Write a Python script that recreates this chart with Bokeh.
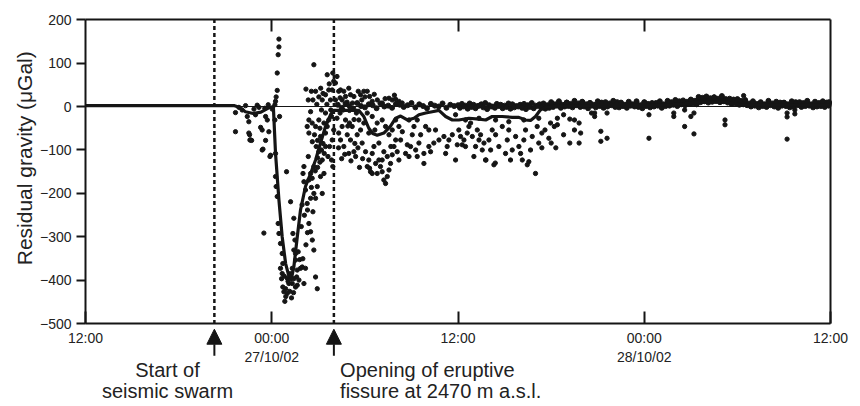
import math
from bokeh.plotting import figure
from bokeh.models import Range1d, FixedTicker, LinearAxis, Label, Arrow, NormalHead
from bokeh.embed import file_html
from bokeh.resources import INLINE

# ---------------- data (time in hours after 12:00 on 26/10/02, gravity in µGal) -------------
tick_hours = [0, 12, 24, 36, 48]
tick_labels = ["12:00", "00:00\n27/10/02", "12:00", "00:00\n28/10/02", "12:00"]
y_ticks = [200, 100, 0, -100, -200, -300, -400, -500]
y_tick_labels = ["200", "100", "0", "\u2212100", "\u2212200", "\u2212300", "\u2212400", "\u2212500"]
y_axis_title = "Residual gravity (\u03bcGal)"

swarm_start = 8.3      # start of seismic swarm
fissure_open = 16.0    # opening of eruptive fissure
swarm_text = ["Start of", "seismic swarm"]
fissure_text = ["Opening of eruptive", "fissure at 2470 m a.s.l."]

pre_swarm = [(9.66,-14),(9.66,-58),(9.88,-2),(10.09,-8),(10.31,2),(10.42,-23),(10.52,-35),(10.57,-65),
             (10.59,-77),(10.70,-78),(10.85,-6),(10.95,-19),(11.06,3),(11.17,-2),(11.28,-48),(11.38,-54),
             (11.38,-100),(11.43,-98),(11.49,-291),(11.55,-4),(11.60,-78),(11.60,-23),(11.71,-31),(11.77,4),
             (11.81,-58),(11.88,-115),(11.92,-112),(12.03,-6),(12.20,4),(12.20,-31),(12.24,12),(12.28,22),
             (12.35,37),(12.35,77),(12.41,119),(12.46,137),(12.46,155),(12.50,-23),(10.52,-61),(10.63,-77)]

collapse = [(12.24,-108),(12.24,-161),(12.28,-184),(12.35,-207),(12.41,-269),(12.46,-292),(12.56,-315),
            (12.67,-338),(12.71,-361),(12.56,-372),(12.67,-384),(12.63,-396),(12.71,-415),(12.78,-426),
            (12.89,-419),(12.99,-430),(12.84,-448),(13.10,-407),(13.21,-384),(13.32,-407),(13.42,-396),
            (13.53,-415),(13.64,-411),(13.75,-399),(13.85,-372),(13.96,-369),(14.07,-407),(14.17,-372),
            (13.64,-376),(13.32,-372),(13.53,-353),(13.42,-330),(13.49,-307),(13.36,-292),(13.42,-257),
            (13.21,-219),(12.95,-150),(13.53,-338),(14.82,-392),(14.93,-419),(14.71,-330),(14.61,-307),
            (14.50,-288),(14.39,-269),(14.65,-242),(14.82,-211),(14.71,-200),(14.50,-211),(14.28,-223),
            (14.17,-192),(14.07,-173),(14.39,-169),(14.07,-138),(14.35,-115),(14.01,-154),(14.50,-154),
            (14.71,-138),(14.93,-184),(15.25,-200),(15.14,-161),(15.36,-154),(15.25,-123),(15.03,-104),
            (14.86,-92),(14.61,-81),(14.39,-61),(14.28,-46),(14.39,-31),(14.50,-12),(14.35,15),(14.65,15),
            (14.82,35),(14.71,96),(15.03,22),(15.25,15),(15.46,27),(15.57,73),(15.67,38),(15.78,15),
            (15.93,77),(15.99,58),(16.10,54),(16.20,69),(15.89,38),(16.10,15),(15.46,-15),(15.67,-31),
            (15.57,-46),(15.85,-23),(15.89,-77),(15.72,-92),(15.99,-54),(15.85,-123),(15.93,-138),
            (15.46,-61),(15.36,-38),(15.14,-69),(15.03,-31),(14.82,-46),(15.46,-92),(15.62,-115),(15.38,-108),
            (13.0,-395),(13.15,-425),(13.27,-440),(13.05,-402),(12.9,-437),(13.4,-428),(13.6,-392),
            (12.8,-390),(13.8,-352),(14.0,-350),(13.7,-334),(14.2,-318),(14.3,-290),(13.9,-276),(14.1,-250),
            (14.3,-238),(13.95,-226),(14.55,-186),(14.6,-165),(14.8,-148),(14.95,-140),(15.1,-128),
            (14.95,-118),(15.2,-100),(15.3,-85),(15.1,-50),(15.2,-8),(14.9,5),(15.15,42),(15.55,5),
            (15.8,-8),(15.7,52),(15.3,30),(14.55,35),(14.2,40),(14.6,-38),(14.75,-65),(14.95,-78)]

post_fissure = [(16.20,-27),(16.31,-61),(16.43,-77),(16.53,-46),(16.64,-92),(16.75,-31),(16.86,-65),
                (16.96,-108),(17.07,-77),(17.18,-46),(17.29,-104),(17.40,-115),(17.50,-65),(17.61,-31),
                (17.72,-54),(17.82,-84),(17.93,-38),(18.04,-104),(18.15,-138),(18.25,-123),(18.36,-150),
                (18.47,-108),(18.58,-92),(18.69,-131),(18.79,-154),(18.90,-123),(19.00,-138),(19.11,-150),
                (19.22,-169),(19.33,-177),(19.44,-161),(19.55,-146),(19.65,-131),(19.76,-111),(19.87,-92),
                (19.98,-77),(20.08,-104),(20.19,-123),(18.64,-54),(18.79,-38),(19.11,-31),(19.33,-46),
                (19.55,-65),(19.76,-54),(19.98,-31),(20.19,-46),(18.25,-61),(18.47,-23),(18.15,-15),
                (18.90,-84),(19.22,-104),(18.47,-154),(18.30,-142),(19.44,-115),(19.11,-123),(19.67,-92),
                (16.6,-8),(17.45,-15),(17.0,-9),(16.31,35),(16.43,38),(16.64,35),(16.53,15),(16.75,23),
                (16.96,42),(17.07,27),(17.29,23),(17.57,35),(17.72,27),(17.93,35),(18.15,35),(18.30,23),
                (18.47,12),(18.80,15),(19.12,8),(19.55,19),(19.76,15),(19.97,17),(20.19,12),(16.4,20),
                (16.85,10),(17.2,8),(17.8,15),(18.0,22),(18.6,28),(19.3,18),(19.9,26),(20.4,8),
                (16.3,-95),(16.5,-120),(16.7,-110),(16.9,-45),(17.1,-125),(17.35,-85),(17.55,-95),
                (17.65,-140),(17.85,-120),(17.0,-38),(16.4,-15),(17.3,-30)]

late_scatter = [(20.30,-77),(20.41,-58),(20.62,-108),(20.73,-88),(20.84,-115),(20.94,-92),(21.05,-65),
                (21.16,-46),(21.27,-100),(21.37,-115),(21.48,-84),(21.59,-65),(21.80,-131),(21.80,-108),
                (21.91,-46),(22.12,-92),(22.23,-104),(22.44,-84),(22.55,-54),(22.77,-77),(23.09,-69),
                (23.20,-108),(23.30,-92),(23.41,-77),(23.63,-65),(23.84,-123),(23.95,-88),(24.05,-54),
                (22.12,-54),(20.84,-31),(21.37,-31),(24.16,-69),(24.27,-88),(24.38,-77),(24.48,-92),
                (24.59,-61),(24.70,-46),(24.81,-38),(24.92,-69),(25.02,-115),(25.13,-92),(25.24,-54),
                (25.35,-77),(25.45,-65),(25.56,-100),(25.67,-84),(25.77,-123),(25.99,-77),(26.10,-100),
                (26.20,-54),(26.31,-134),(26.42,-65),(26.63,-92),(26.85,-46),(27.06,-108),(27.17,-77),
                (27.27,-54),(27.38,-123),(27.49,-100),(27.71,-69),(27.92,-92),(28.03,-108),(28.14,-123),
                (28.24,-77),(28.35,-54),(28.46,-134),(28.56,-127),(28.67,-100),(28.78,-69),(28.99,-154),
                (29.10,-46),(29.2,-84),(29.4,-61),(29.6,-54),(29.85,-73),(30.2,-46),(29.96,-38),
                (23.84,-19),(24.48,-31),(25.35,-27),(26.42,-31),(27.27,-35),(28.24,-31),(29.2,-27),
                (30.3,-95),(30.0,-84),(29.4,-95),(30.4,-27),(30.4,-42),(30.8,-19),(30.8,-65),(31.2,-29),
                (31.2,-84),(31.5,-31),(31.5,-54),(31.8,-38),(31.8,-84),(31.9,-61),(32.8,-23),(32.8,-15),
                (33.2,-57),(33.2,-80),(33.6,-73),(33.6,-15),(32.6,-15),(25.8,-123),(26.4,-130),
                (36.3,-19),(36.3,-73),(37.9,-15),(37.9,-23),(38.6,-46),(38.6,-8),(39.0,-23),(39.2,-15),
                (39.2,-63),(41.2,-31),(41.2,-42),(45.2,-15),(45.2,-24),(45.2,-75),(45.7,-8),(45.7,-17),
                (42.4,25)]

band_a_h = [16.25,16.5,16.75,17.0,17.25,17.5,17.75,18.0,18.25,18.5,18.75,19.0,19.25,19.5,19.75,20.0,
            20.25,20.5,20.75,21.0,21.25,21.5,21.75,22.0,22.25,22.5,22.75,23.0,23.25,23.5,23.75]
band_a_v = [4,-3,6,2,-5,8,1,-2,5,3,-4,7,0,2,-3,6,4,-1,3,8,-2,5,1,-4,6,2,0,7,-3,4,1]

band_b_h = [24.0,24.25,24.5,24.75,25.0,25.25,25.5,25.75,26.0,26.25,26.5,26.75,27.0,27.25,27.5,27.75,
            28.0,28.25,28.5,28.75,29.0,29.25,29.5,29.75,30.0,
            30.25,30.5,30.75,31.0,31.25,31.5,31.75,32.0,32.25,32.5,32.75,33.0,33.25,33.5,33.75,34.0,
            34.25,34.5,34.75,35.0,35.25,35.5,35.75,36.0,36.25,36.5,36.75,37.0,37.25,
            37.5,37.75,38.0,38.25,38.5,38.75,39.0,39.25,
            39.5,39.75,40.0,40.25,40.5,40.75,41.0,41.25,
            41.5,41.75,42.0,42.25,42.5,
            42.75,43.0,43.25,43.5,43.75,44.0,44.25,44.5,44.75,45.0,45.25,45.5,45.75,46.0,46.25,46.5,
            46.75,47.0,47.25,47.5,47.75,47.9]
band_b_v = [3,6,2,7,4,1,5,8,3,0,6,4,2,7,5,1,4,6,3,8,2,5,7,3,6,
            5,8,4,9,6,3,7,10,5,8,4,6,9,3,7,5,10,6,4,8,5,7,3,9,6,4,8,6,5,
            8,10,7,12,9,11,14,13,
            18,20,17,19,21,18,20,17,
            14,16,12,13,10,
            7,9,6,8,5,10,7,6,9,8,5,7,10,6,8,9,5,7,8,6,9,7]

band_c_h = [24.125,24.375,24.625,24.875,25.125,25.375,25.625,25.875,26.125,26.375,26.625,26.875,
            27.125,27.375,27.625,27.875,28.125,28.375,28.625,28.875,29.125,29.375,29.625,29.875,
            30.125,30.375,30.625,30.875,31.125,31.375,31.625,31.875,32.125,32.375,32.625,32.875,
            33.125,33.375,33.625,33.875,34.125,34.375,34.625,34.875,35.125,35.375,35.625,35.875,
            36.125,36.375,36.625,36.875,37.125,37.375,
            37.625,37.875,38.125,38.375,38.625,38.875,39.125,39.375,
            39.625,39.875,40.125,40.375,40.625,40.875,41.125,41.375,
            41.625,41.875,42.125,42.375,42.625,
            42.875,43.125,43.375,43.625,43.875,44.125,44.375,44.625,44.875,45.125,45.375,45.625,
            45.875,46.125,46.375,46.625,46.875,47.125,47.375,47.625,47.875]
band_c_v = [-3,0,-5,-1,-4,2,-2,-6,0,-3,1,-4,-1,-5,-2,0,-3,-6,-1,-4,1,-2,-5,-3,
            -1,2,-3,0,1,-2,3,-1,0,-4,2,-2,1,-3,0,3,-1,-2,1,-3,2,0,-1,-4,1,-2,0,2,-3,1,
            2,4,1,5,3,6,7,5,
            10,12,9,11,13,10,12,9,
            6,8,4,5,3,
            0,2,-2,1,-1,3,0,-3,2,1,-2,0,3,-1,1,2,-2,0,1,-1,2]

band_d_h = [30.0,30.5,31.0,31.5,32.0,32.5,33.0,33.5,34.0,34.5,35.0,35.5,36.0,36.5,37.0,
            37.5,38.0,38.5,39.0,39.5,40.0,40.5,41.0,41.5,42.0,42.5,
            43.0,43.5,44.0,44.5,45.0,45.5,46.0,46.5,47.0,47.5,47.9]
band_d_v = [10,12,9,13,11,8,12,10,13,9,11,12,10,8,12,
            13,15,14,16,22,23,21,24,18,17,15,
            12,10,13,11,9,12,10,13,11,12,10]

fit_curve = [(0,2),(9.6,2),(9.9,-2),(10.3,-12),(10.8,-16),(11.3,-13),(11.8,-3),(12.1,0),(12.24,-108),
             (12.46,-215),(12.67,-300),(12.89,-361),(13.1,-390),(13.25,-398),(13.42,-369),(13.64,-300),
             (13.85,-238),(14.17,-184),(14.50,-154),(14.82,-123),(15.14,-84),(15.46,-46),(15.78,-19),
             (15.99,-9),(17.61,-9),(17.93,-23),(18.25,-50),(18.5,-62),(18.79,-66),(19.22,-61),(19.65,-45),
             (19.98,-27),(20.30,-22),(20.73,-31),(21.16,-27),(21.48,-19),(21.91,-15),(22.34,-12),
             (22.77,-9),(23.2,-23),(23.63,-31),(24.05,-31),(24.7,-27),(25.35,-29),(25.78,-31),(26.2,-23),
             (26.85,-23),(27.49,-25),(27.92,-25),(28.35,-31),(28.67,-32),(28.99,-23),(29.3,-8),
             (29.62,-2),(30.5,1),(33,2),(36,2),(37.5,3),(38.5,6),(39.4,10),(41.3,10),(42,4),(44,3),(48,3)]

# ---------------- figure ---------------------------------------------------------------------
INK = "#151515"
TXT = "#222222"
FONT = "Liberation Sans"

t0, t1 = tick_hours[0], tick_hours[-1]
g_top, g_bot = y_ticks[0], y_ticks[-1]

# the frame fills the whole page; the plotting box is bounded by axes fixed at the data limits,
# which leaves room for the annotations below the time axis
p = figure(width=860, height=406, x_range=Range1d(-5.48, 49.93), y_range=Range1d(-689.7, 243.7),
           output_backend="svg", toolbar_location=None,
           min_border_left=0, min_border_right=0, min_border_top=0, min_border_bottom=0)
p.grid.visible = False
p.outline_line_color = None
p.background_fill_color = "white"
p.border_fill_color = "white"

xa = p.xaxis[0]
xa.fixed_location = g_bot
xa.bounds = (t0, t1)
xa.ticker = FixedTicker(ticks=tick_hours)
xa.major_label_overrides = {t: l for t, l in zip(tick_hours, tick_labels)}
xa.major_tick_in = 12
xa.major_tick_out = 0
xa.minor_tick_line_color = None
xa.axis_line_width = 2
xa.axis_line_color = INK
xa.major_tick_line_width = 2
xa.major_tick_line_color = INK
xa.major_label_text_font = FONT
xa.major_label_text_font_size = "14px"
xa.major_label_text_color = TXT
xa.major_label_standoff = 6

ya = p.yaxis[0]
ya.fixed_location = t0
ya.bounds = (g_bot, g_top)
ya.ticker = FixedTicker(ticks=y_ticks)
ya.major_label_overrides = {t: l for t, l in zip(y_ticks, y_tick_labels)}
ya.major_tick_in = 0
ya.major_tick_out = 9
ya.minor_tick_line_color = None
ya.axis_line_width = 2
ya.axis_line_color = INK
ya.major_tick_line_width = 2
ya.major_tick_line_color = INK
ya.major_label_text_font = FONT
ya.major_label_text_font_size = "14px"
ya.major_label_text_color = TXT
ya.major_label_standoff = 5

top = LinearAxis(fixed_location=g_top, bounds=(t0, t1), ticker=FixedTicker(ticks=tick_hours[1:-1]),
                 major_tick_in=12, major_tick_out=0, minor_tick_line_color=None,
                 axis_line_width=2, axis_line_color=INK, major_tick_line_width=2,
                 major_tick_line_color=INK, major_label_text_color=None)
p.add_layout(top, "above")
right = LinearAxis(fixed_location=t1, bounds=(g_bot, g_top), ticker=FixedTicker(ticks=[]),
                   major_tick_in=0, major_tick_out=0, minor_tick_line_color=None,
                   axis_line_width=2, axis_line_color=INK, major_label_text_color=None)
p.add_layout(right, "right")

# y axis title
p.add_layout(Label(x=-3.93, y=-119, text=y_axis_title, angle=math.pi / 2, text_align="center",
                   text_baseline="middle", text_font=FONT, text_font_size="21px", text_color=TXT))

# zero reference line
p.segment(x0=[t0], y0=[0], x1=[t1], y1=[0], line_color=INK, line_width=1.2)

# event lines
p.segment(x0=[swarm_start, fissure_open], y0=[g_bot, g_bot], x1=[swarm_start, fissure_open],
          y1=[g_top, g_top], line_color=INK, line_width=2.5, line_dash="4 3")

# scatter points
for pts in (pre_swarm, collapse, post_fissure, late_scatter):
    p.scatter([a for a, b in pts], [b for a, b in pts], size=4.3, color=INK)
for hh, vv in ((band_a_h, band_a_v), (band_b_h, band_b_v), (band_c_h, band_c_v), (band_d_h, band_d_v)):
    p.scatter(hh, vv, size=5, color=INK)

# smoothed curve
p.line([a for a, b in fit_curve], [b for a, b in fit_curve], line_color=INK, line_width=3.2,
       line_join="round")

# annotations below the time axis
for t in (swarm_start, fissure_open):
    p.add_layout(Arrow(end=NormalHead(size=15, fill_color=INK, line_color=INK),
                       x_start=t, y_start=-573, x_end=t, y_end=-512,
                       line_color=INK, line_width=2))

for txt, yy in zip(swarm_text, (-605, -655)):
    p.add_layout(Label(x=5.28, y=yy, text=txt, text_align="center", text_baseline="middle",
                       text_font=FONT, text_font_size="20px", text_color=TXT))
for txt, yy in zip(fissure_text, (-605, -655)):
    p.add_layout(Label(x=16.4, y=yy, text=txt, text_align="left", text_baseline="middle",
                       text_font=FONT, text_font_size="20px", text_color=TXT))

open("out.html", "w").write(file_html(p, INLINE))
